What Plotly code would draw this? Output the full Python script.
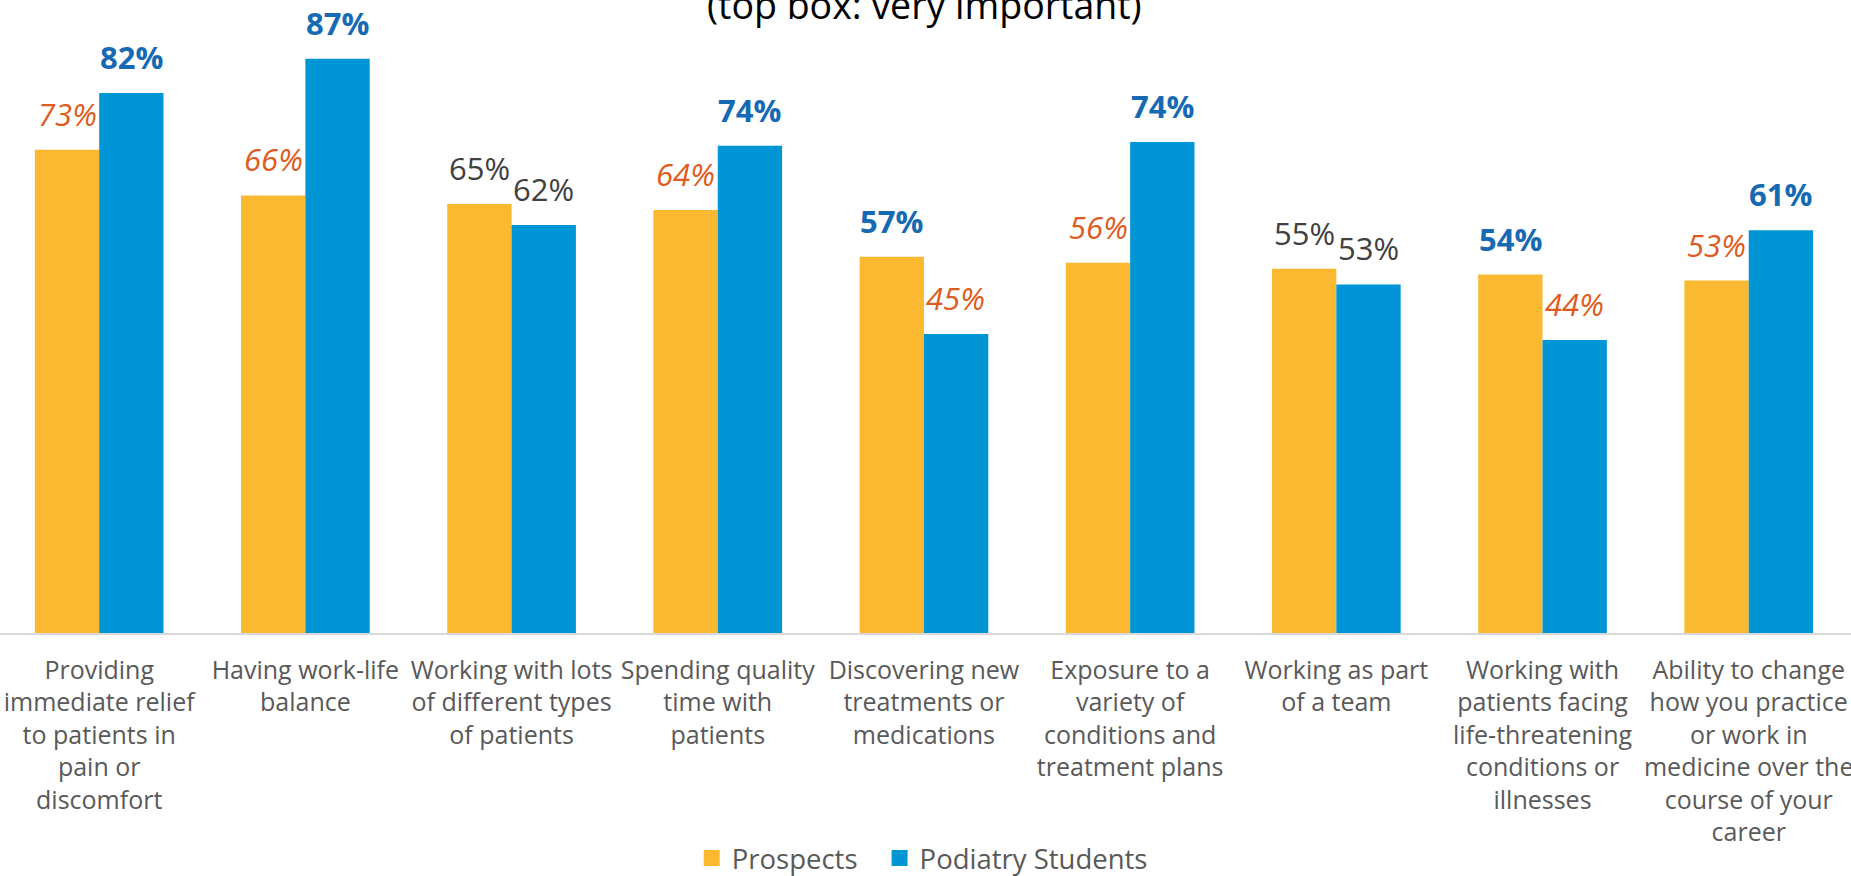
import plotly.graph_objects as go

# -----------------------------------------------------------------------------
# Data
# -----------------------------------------------------------------------------

categories = [
    "Providing<br>immediate relief<br>to patients in<br>pain or<br>discomfort",
    "Having work-life<br>balance",
    "Working with lots<br>of different types<br>of patients",
    "Spending quality<br>time with<br>patients",
    "Discovering new<br>treatments or<br>medications",
    "Exposure to a<br>variety of<br>conditions and<br>treatment plans",
    "Working as part<br>of a team",
    "Working with<br>patients facing<br>life-threatening<br>conditions or<br>illnesses",
    "Ability to change<br>how you practice<br>or work in<br>medicine over the<br>course of your<br>career",
]

prospects = [73.2, 66.3, 65.0, 64.1, 57.0, 56.1, 55.2, 54.3, 53.4]
students = [81.8, 87.0, 61.8, 73.8, 45.3, 74.4, 52.8, 44.4, 61.0]

# label style per bar: "hi" = significantly higher, "lo" = lower, "eq" = no diff
prospects_sig = ["lo", "lo", "eq", "lo", "hi", "lo", "eq", "hi", "lo"]
students_sig = ["hi", "hi", "eq", "hi", "lo", "hi", "eq", "lo", "hi"]

series_names = ["Prospects", "Podiatry Students"]
subtitle = "(top box: very important)"

# -----------------------------------------------------------------------------
# Style
# -----------------------------------------------------------------------------

FONT = "Open Sans, Arial, sans-serif"
ORANGE = "#FBB931"
BLUE = "#0096D6"
LABEL_STYLES = {
    "hi": dict(color="#166AB3", weight="bold", style="normal"),
    "lo": dict(color="#DE5B20", weight="normal", style="italic"),
    "eq": dict(color="#404040", weight="normal", style="normal"),
}
BAR_SHIFT = 32  # px, half of one bar width
LEGEND_X = [0.3737, 0.4752]

fig = go.Figure()

for i, (name, values, color) in enumerate([
    (series_names[0], prospects, ORANGE),
    (series_names[1], students, BLUE),
]):
    fig.add_trace(
        go.Bar(
            x=categories,
            y=values,
            name=name,
            marker_color=color,
            marker_line_width=0,
            showlegend=False,
        )
    )
    # legend proxy with a bigger square swatch, one legend each
    fig.add_trace(
        go.Scatter(
            x=[None],
            y=[None],
            mode="markers",
            name=name,
            marker=dict(symbol="square", size=18, color=color),
            legend="legend" if i == 0 else "legend2",
        )
    )

annotations = []
for values, sigs, shift in [
    (prospects, prospects_sig, -BAR_SHIFT),
    (students, students_sig, BAR_SHIFT),
]:
    for cat, value, sig in zip(categories, values, sigs):
        style = LABEL_STYLES[sig]
        annotations.append(
            dict(
                x=cat,
                y=value,
                xref="x",
                yref="y",
                text=f"{round(value)}%",
                showarrow=False,
                xanchor="center",
                yanchor="bottom",
                xshift=shift,
                yshift=13,
                font=dict(family=FONT, size=31, **style),
            )
        )

annotations.append(
    dict(
        x=0.4995,
        y=0.9497,
        xref="paper",
        yref="paper",
        text=subtitle,
        showarrow=False,
        xanchor="center",
        yanchor="bottom",
        font=dict(family=FONT, size=37.5, color="#000000"),
    )
)

legend_common = dict(
    orientation="h",
    xanchor="left",
    y=-0.3555,
    yanchor="middle",
    font=dict(family=FONT, size=27.5, color="#595959"),
    bgcolor="rgba(0,0,0,0)",
)

fig.update_layout(
    width=1851,
    height=876,
    margin=dict(t=0, b=243, l=0, r=0, autoexpand=False),
    paper_bgcolor="white",
    plot_bgcolor="white",
    barmode="group",
    bargap=0.376,
    bargroupgap=0,
    font=dict(family=FONT, color="#595959"),
    annotations=annotations,
    showlegend=True,
    hovermode=False,
    legend=dict(x=LEGEND_X[0], **legend_common),
    legend2=dict(x=LEGEND_X[1], **legend_common),
)

fig.update_xaxes(
    range=[-0.481, 8.496],
    showgrid=False,
    showline=True,
    linecolor="#D9D9D9",
    linewidth=1.5,
    ticks="",
    tickangle=0,
    automargin=False,
    tickfont=dict(family=FONT, size=25, color="#595959"),
    ticklabelstandoff=14,
    fixedrange=True,
)

fig.update_yaxes(
    range=[0, 95.9],
    visible=False,
    showgrid=False,
    zeroline=False,
    fixedrange=True,
)

# drop the default 8px body margin so the figure sits at the page corner
fig.write_html(
    "out.html",
    config={"displayModeBar": False},
    post_script="document.body.style.margin = '0';",
)
